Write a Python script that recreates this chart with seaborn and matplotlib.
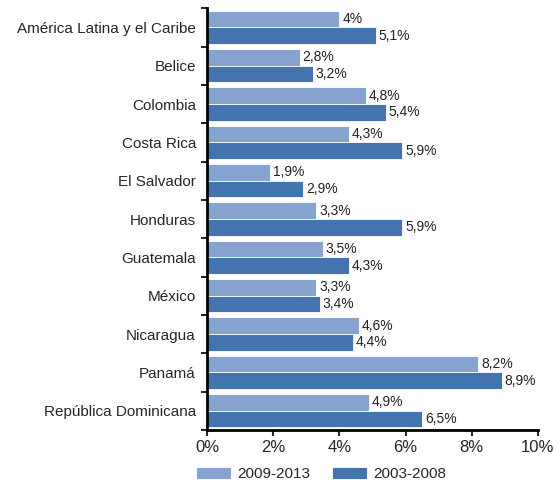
import pandas as pd
import numpy as np
import matplotlib
matplotlib.use("Agg")
import matplotlib.pyplot as plt
import seaborn as sns
from matplotlib.ticker import FixedLocator

paises = ["América Latina y el Caribe", "Belice", "Colombia", "Costa Rica", "El Salvador",
          "Honduras", "Guatemala", "México", "Nicaragua", "Panamá", "República Dominicana"]
serie_2009_2013 = [4.0, 2.8, 4.8, 4.3, 1.9, 3.3, 3.5, 3.3, 4.6, 8.2, 4.9]
serie_2003_2008 = [5.1, 3.2, 5.4, 5.9, 2.9, 5.9, 4.3, 3.4, 4.4, 8.9, 6.5]
periodos = ["2009-2013", "2003-2008"]
colores = ["#87a3d0", "#4374ae"]

df = pd.DataFrame({
    "pais": paises * 2,
    "valor": serie_2009_2013 + serie_2003_2008,
    "periodo": [periodos[0]] * len(paises) + [periodos[1]] * len(paises),
})

sns.set_style("white")
plt.rcParams['font.family'] = ['Liberation Sans', 'DejaVu Sans']

fig = plt.figure(figsize=(5.58, 4.82), dpi=100)
ax = fig.add_axes([0.371, 0.108, 0.593, 0.875])

sns.barplot(data=df, y="pais", x="valor", hue="periodo", orient="h",
            palette=colores, saturation=1, width=0.87, gap=0, ax=ax,
            edgecolor="white", linewidth=0.6)


def fmt(v):
    if abs(v - round(v)) < 1e-9:
        return f"{int(round(v))}%"
    return f"{v:.1f}%".replace(".", ",")


for cont, vals in zip(ax.containers, [serie_2009_2013, serie_2003_2008]):
    ax.bar_label(cont, labels=[fmt(v) for v in vals], padding=2, fontsize=10, color="#222222")

ax.set_xlim(0, 10)
ax.set_ylim(len(paises) - 0.5, -0.5)
ax.set_xticks(np.arange(0, 11, 2))
ax.set_xticklabels([f"{x}%" for x in range(0, 11, 2)], fontsize=12)
ax.set_yticks(range(len(paises)))
ax.set_yticklabels(paises, fontsize=11)
ax.yaxis.set_minor_locator(FixedLocator(np.arange(-0.5, len(paises), 1)))
ax.tick_params(axis="y", which="major", length=0, pad=8)
ax.tick_params(axis="y", which="minor", length=4, width=1.5, direction="out", left=True)
ax.tick_params(axis="x", which="major", length=4, width=1.5, direction="out", bottom=True, pad=3)
ax.set_xlabel("")
ax.set_ylabel("")

for s in ["top", "right"]:
    ax.spines[s].set_visible(False)
for s in ["left", "bottom"]:
    ax.spines[s].set_linewidth(2)
    ax.spines[s].set_color("black")

ax.legend(loc="upper center", bbox_to_anchor=(0.345, -0.073), ncol=2, frameon=False,
          fontsize=11, handlelength=2.3, handleheight=0.8, columnspacing=1.4,
          handletextpad=0.4, borderaxespad=0.2, borderpad=0.2)

fig.savefig("out.png", dpi=100)
